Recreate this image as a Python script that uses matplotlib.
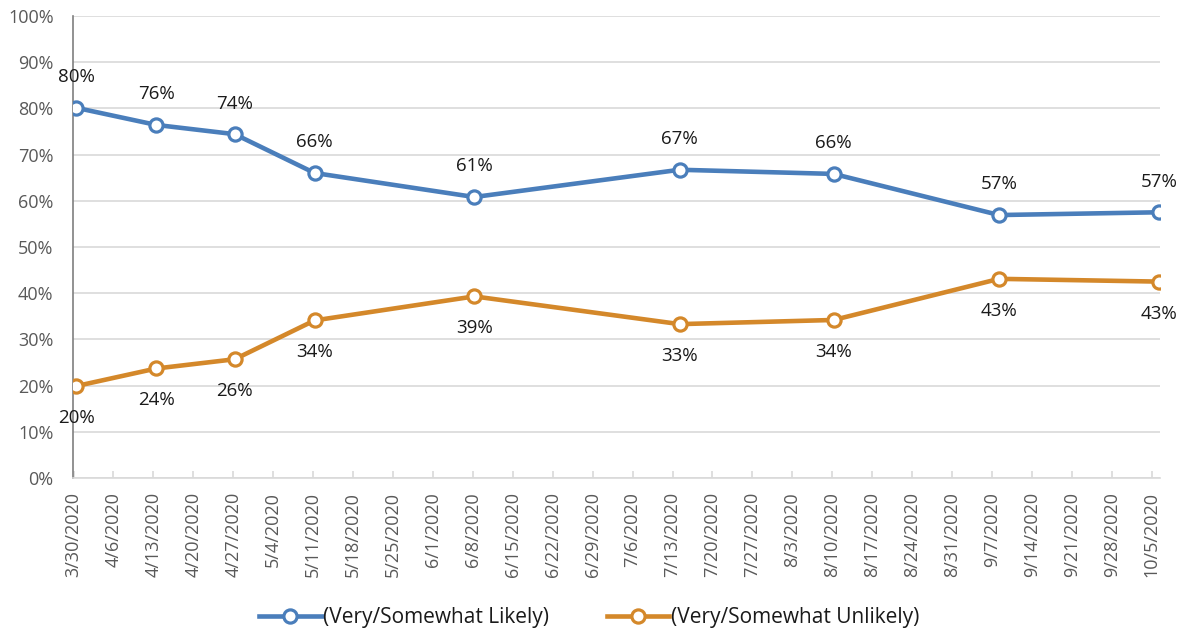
import pandas as pd
import matplotlib
matplotlib.use("Agg")
import matplotlib.pyplot as plt

plt.rcParams["font.family"] = ["Open Sans", "DejaVu Sans"]

# survey dates (as plotted on the date axis) and values
dates = pd.to_datetime(["2020-03-30 12:00", "2020-04-13 12:00", "2020-04-27 06:00", "2020-05-11 06:00",
                        "2020-06-08 06:00", "2020-07-14 06:00", "2020-08-10 06:00", "2020-09-08 06:00",
                        "2020-10-06 06:00"])
likely = [80.1, 76.4, 74.4, 66.0, 60.8, 66.7, 65.8, 56.9, 57.5]
unlikely = [19.9, 23.7, 25.7, 34.1, 39.3, 33.3, 34.2, 43.1, 42.5]
likely_labels = ["80%", "76%", "74%", "66%", "61%", "67%", "66%", "57%", "57%"]
unlikely_labels = ["20%", "24%", "26%", "34%", "39%", "33%", "34%", "43%", "43%"]
series_names = ["(Very/Somewhat Likely)", "(Very/Somewhat Unlikely)"]

tick_dates = pd.date_range("2020-03-30", "2020-10-05", freq="7D")
tick_labels = [f"{d.month}/{d.day}/{d.year}" for d in tick_dates]

blue = "#4a7ebb"
orange = "#d4882a"
grey = "#595959"

fig = plt.figure(figsize=(11.78, 6.34), dpi=100)
ax = fig.add_axes([0.062, 0.246, 0.923, 0.729])

for vals, labs, col, name, off in [(likely, likely_labels, blue, series_names[0], 22),
                                   (unlikely, unlikely_labels, orange, series_names[1], -23)]:
    ax.plot(dates, vals, color=col, lw=3.3, marker="o", ms=9.5, mfc="white",
            mec=col, mew=2.3, label=name, zorder=3)
    for d, v, t in zip(dates, vals, labs):
        ax.annotate(t, (d, v), xytext=(0, off), textcoords="offset points",
                    ha="center", va="center", fontsize=13.5, color="#1a1a1a")

ax.set_ylim(0, 100)
ax.set_yticks(range(0, 101, 10))
ax.set_yticklabels([f"{v}%" for v in range(0, 101, 10)])
ax.set_xlim(tick_dates[0] - pd.Timedelta(hours=2), pd.Timestamp("2020-10-06 12:00"))
ax.set_xticks(tick_dates)
ax.set_xticklabels(tick_labels, rotation=90)

ax.grid(axis="y", color="#d9d9d9", lw=1.2)
ax.set_axisbelow(True)
for s in ["top", "right"]:
    ax.spines[s].set_visible(False)
ax.spines["left"].set_color("#7f7f7f")
ax.spines["left"].set_linewidth(1.2)
ax.spines["bottom"].set_color("#d9d9d9")
ax.spines["bottom"].set_linewidth(1.2)
ax.tick_params(axis="y", length=0, labelsize=13, labelcolor=grey, pad=14)
ax.tick_params(axis="x", direction="in", length=5, color="#d9d9d9", width=1.2,
               labelsize=13, labelcolor=grey, pad=10)

fig.legend(loc="lower center", bbox_to_anchor=(0.5, -0.02), ncol=2, frameon=False,
           fontsize=15, handlelength=3.0, handletextpad=0.05, columnspacing=2.8,
           labelcolor="#1a1a1a")

fig.savefig("out.png", dpi=100)
